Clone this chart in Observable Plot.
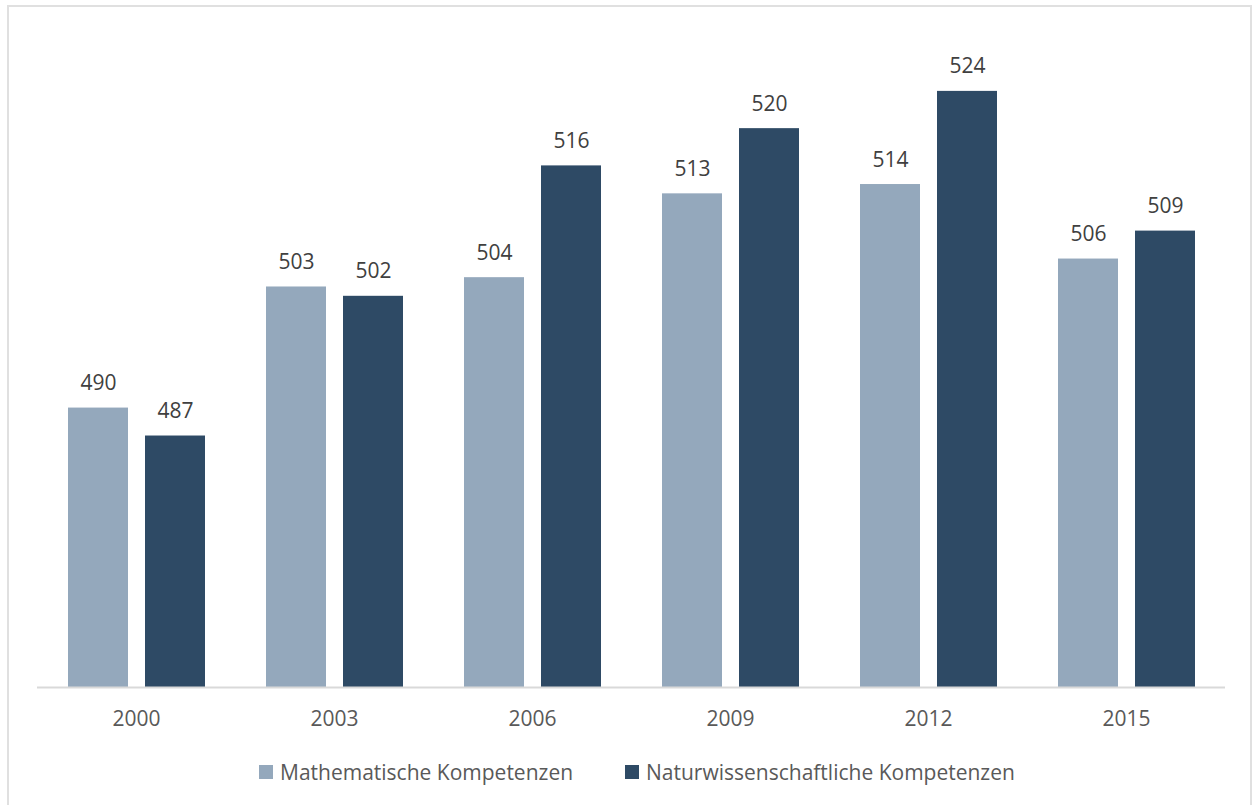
<!DOCTYPE html>
<html>
<head>
<meta charset="utf-8">
<script src="https://cdn.jsdelivr.net/npm/d3@7"></script>
<script src="https://cdn.jsdelivr.net/npm/@observablehq/plot@0.6"></script>
<style>
  html, body { margin: 0; padding: 0; background: #fff; }
  body { width: 1255px; height: 805px; position: relative; overflow: hidden; font-family: "Open Sans", sans-serif; }
  #frame { position: absolute; left: 7px; top: 5px; width: 1245px; height: 820px; border: 2px solid #e0e0e0; box-sizing: border-box; }
  #chart { position: absolute; left: 0; top: 0; }
  .leg { position: absolute; top: 758px; font-size: 21px; color: #595959; display: flex; align-items: center; white-space: nowrap; }
  .sw { width: 14px; height: 14px; margin-right: 7px; display: inline-block; }
</style>
</head>
<body>
<div id="frame"></div>
<div id="chart"></div>
<div class="leg" style="left:259px"><span class="sw" style="background:#94a8bc"></span>Mathematische Kompetenzen</div>
<div class="leg" style="left:625px"><span class="sw" style="background:#2e4a65"></span>Naturwissenschaftliche Kompetenzen</div>
<script>
const years = ["2000", "2003", "2006", "2009", "2012", "2015"];
const series = ["Mathematische Kompetenzen", "Naturwissenschaftliche Kompetenzen"];
const mathValues = [490, 503, 504, 513, 514, 506];
const sciValues = [487, 502, 516, 520, 524, 509];
const colors = ["#94a8bc", "#2e4a65"];

const data = [];
years.forEach((y, i) => {
  data.push({year: y, series: series[0], value: mathValues[i]});
  data.push({year: y, series: series[1], value: sciValues[i]});
});

const chart = Plot.plot({
  width: 1255,
  height: 740,
  marginTop: 35,
  marginBottom: 53,
  marginLeft: 36,
  marginRight: 30,
  style: {fontFamily: "'Open Sans', sans-serif", color: "#595959", background: "transparent"},
  fx: {domain: years, padding: 0, label: null},
  x: {domain: series, paddingInner: 0.2208, paddingOuter: 0.396, axis: null},
  y: {domain: [460, 530], axis: null},
  color: {domain: series, range: colors},
  marks: [
    Plot.barY(data, {fx: "year", x: "series", y1: 460, y2: "value", fill: "series"}),
    Plot.ruleY([460], {stroke: "#d9d9d9", strokeWidth: 2}),
    Plot.text(data, {fx: "year", x: "series", y: "value", text: d => String(d.value), lineAnchor: "bottom", dy: -18, fontSize: 21, fill: "#404040"}),
    Plot.axisFx({anchor: "bottom", tickSize: 0, tickPadding: 24, fontSize: 21, label: null, color: "#595959"})
  ]
});
document.getElementById("chart").appendChild(chart);
</script>
</body>
</html>
